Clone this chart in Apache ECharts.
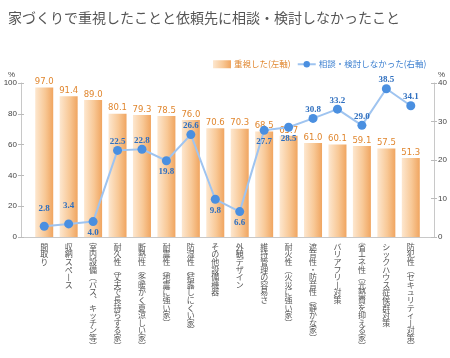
<!DOCTYPE html>
<html><head><meta charset="utf-8">
<script src="https://cdn.jsdelivr.net/npm/echarts@6/dist/echarts.min.js"></script>
<style>html,body{margin:0;padding:0;background:#fff}#c{width:450px;height:358px}</style>
</head><body><div id="c"></div>
<script>
const title = '家づくりで重視したことと依頼先に相談・検討しなかったこと';
const categories = ['間取り','収納スペース','室内設備（バス、キッチン等）','耐久性（丈夫で長持ちする家）','断熱性（冬暖かく夏涼しい家）','耐震性（地震に強い家）','防湿性（結露しにくい家）','その他設備機器','外観デザイン','維持管理の容易さ','耐火性（火災に強い家）','遮音性・防音性（静かな家）','バリアフリー対策','省エネ性（光熱費を抑える家）','シックハウス症候群対策','防犯性（セキュリティー対策）'];
const emphasized = [97.0,91.4,89.0,80.1,79.3,78.5,76.0,70.6,70.3,68.5,65.7,61.0,60.1,59.1,57.5,51.3];
const notConsulted = [2.8,3.4,4.0,22.5,22.8,19.8,26.6,9.8,6.6,27.7,28.5,30.8,33.2,29.0,38.5,34.1];
const seriesNames = ['重視した(左軸)','相談・検討しなかった(右軸)'];
const leftTicks = {min:0,max:100,interval:20};
const rightTicks = {min:0,max:40,interval:10};

const belowIdx = new Set([2,5,7,8,9,10]);
const highIdx = new Set([0,1]);
const vmap = {'（':'︵','）':'︶','ー':'丨','、':'︑'};
function vertical(s){return s.split('').map(c=>vmap[c]||c).join('\n');}

const chart = echarts.init(document.getElementById('c'));
const barGrad = new echarts.graphic.LinearGradient(0,0,1,0,[
  {offset:0,color:'#fde7cf'},{offset:0.55,color:'#f8c896'},{offset:1,color:'#f0a560'}]);
const blue = '#4a8fe0';
const innerTicks = (ticks,pos)=>({type:'value',gridIndex:0,...ticks,position:pos,offset:11,
  axisLine:{show:false},axisTick:{show:true,inside:true,length:3,lineStyle:{color:'#bbb'}},
  axisLabel:{show:false},splitLine:{show:false}});
chart.setOption({
  backgroundColor:'#fff',
  animation:false,
  title:{text:title,left:3,top:6,textStyle:{fontSize:14,fontWeight:'normal',color:'#555',fontFamily:'Noto Sans CJK JP'}},
  legend:{left:208,top:55,width:240,itemWidth:18,itemHeight:8,itemGap:6,
    textStyle:{fontSize:8.5,fontFamily:'Noto Sans CJK JP',padding:[0,0,0,-2]},
    data:[{name:seriesNames[0],icon:'rect',textStyle:{color:'#e0862e'}},
          {name:seriesNames[1],textStyle:{color:'#3b7fd0'}}]},
  grid:[{left:32,right:27,top:83,height:154},{left:21,right:16,top:83,height:154}],
  xAxis:[{type:'category',data:categories,gridIndex:0,
    axisLine:{show:false},axisTick:{show:false},
    axisLabel:{interval:0,formatter:vertical,fontSize:8,lineHeight:7.6,color:'#555',margin:6,fontFamily:'Noto Sans CJK JP',verticalAlign:'top'}},
    {type:'value',gridIndex:1,min:0,max:1,axisLine:{show:true,lineStyle:{color:'#c8c8c8'}},axisTick:{show:false},axisLabel:{show:false},splitLine:{show:false}}],
  yAxis:[{type:'value',gridIndex:0,...leftTicks,position:'left',offset:11,name:'%',nameGap:4,
      nameTextStyle:{align:'right',padding:[0,6,0,0],fontSize:8,color:'#444'},
      axisLine:{show:true,lineStyle:{color:'#c8c8c8'}},axisTick:{show:true,length:3,lineStyle:{color:'#bbb'}},
      axisLabel:{fontSize:8,color:'#444',margin:4},splitLine:{show:false}},
    {type:'value',gridIndex:0,...rightTicks,position:'right',offset:11,name:'%',nameGap:4,
      nameTextStyle:{align:'left',padding:[0,0,0,4],fontSize:8,color:'#444'},
      axisLine:{show:true,lineStyle:{color:'#c8c8c8'}},axisTick:{show:true,length:3,lineStyle:{color:'#bbb'}},
      axisLabel:{fontSize:8,color:'#444',margin:4},splitLine:{show:false}},
    {type:'value',gridIndex:1,show:false,min:0,max:1},
    innerTicks(leftTicks,'left'), innerTicks(rightTicks,'right')],
  series:[
    {name:seriesNames[0],type:'bar',xAxisIndex:0,yAxisIndex:0,data:emphasized,barWidth:18,
      itemStyle:{color:barGrad},
      label:{show:true,position:'top',distance:1,fontSize:8.5,color:'#e0862e',formatter:p=>p.value.toFixed(1),fontFamily:'DejaVu Sans'}},
    {name:seriesNames[1],type:'line',xAxisIndex:0,yAxisIndex:1,symbol:'circle',symbolSize:9,
      lineStyle:{color:'#9fc4f0',width:2},itemStyle:{color:blue},
      data:notConsulted.map((v,i)=>({value:v,label:{position:belowIdx.has(i)?'bottom':'top',distance:belowIdx.has(i)?2:(highIdx.has(i)?9:0)}})),
      label:{show:true,fontSize:9,fontWeight:'bold',color:'#2f6fbf',fontFamily:'Liberation Serif',formatter:p=>p.value.toFixed(1)},
      z:5}
  ]
});
</script></body></html>
